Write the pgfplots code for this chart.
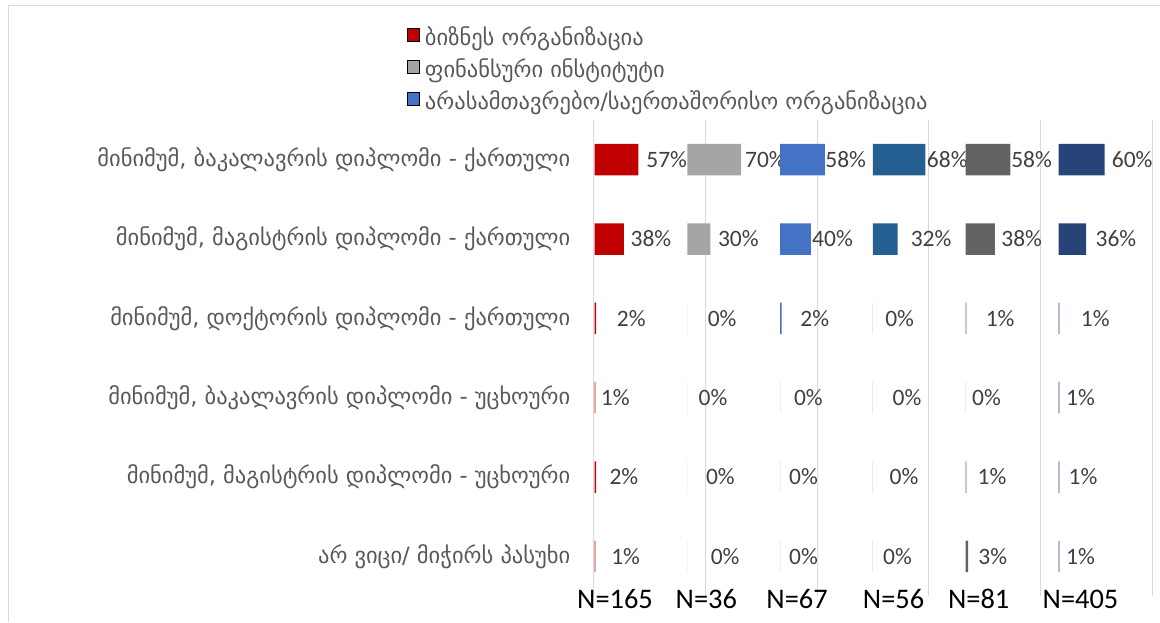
\documentclass[border=0pt]{standalone}
\usepackage{fontspec}
\setmainfont{Carlito}
\newfontfamily\geo{DejaVu Sans}
\usepackage{pgfplots}
\pgfplotsset{compat=1.18}
\usepackage{pgfplotstable}

\definecolor{cBiz}{HTML}{C00000}
\definecolor{cFin}{HTML}{A5A5A5}
\definecolor{cNgo}{HTML}{4472C4}
\definecolor{cS4}{HTML}{255E91}
\definecolor{cS5}{HTML}{636363}
\definecolor{cS6}{HTML}{264478}
\definecolor{gridc}{HTML}{D9D9D9}
\definecolor{labc}{HTML}{595959}
\definecolor{valc}{HTML}{404040}

\newcommand\catfont{\geo\fontsize{22.5}{27}\selectfont}
\newcommand\valfont{\fontsize{23.5}{28}\selectfont}
\newcommand\nfont{\fontsize{28.4}{34}\selectfont}

% share of each answer (percent) per group; dx = gap between bar end and its label (pt)
\pgfplotstableread{
row val dx
0 57 7.8
1 38 6.7
2 2 20.7
3 1 5.5
4 2 13.3
5 1 15.8
}\tblA
\pgfplotstableread{
row val dx
0 70 3.7
1 30 7.4
2 0 20.3
3 0 11.1
4 0 18.5
5 0 23.3
}\tblB
\pgfplotstableread{
row val dx
0 58 0.4
1 40 1.1
2 2 18.5
3 0 13.7
4 0 8.9
5 0 8.9
}\tblC
\pgfplotstableread{
row val dx
0 68 1.5
1 32 13
2 0 12.2
3 0 19.6
4 0 16.6
5 0 10
}\tblD
\pgfplotstableread{
row val dx
0 58 0.7
1 38 6.2
2 1 19.1
3 0 6.3
4 1 11
5 3 10.2
}\tblE
\pgfplotstableread{
row val dx
0 60 7
1 36 9.2
2 1 21.5
3 1 6.7
4 1 9.2
5 1 6.7
}\tblF

\pgfplotsset{
  panel/.style={
    anchor=south west, scale only axis,
    width=92.8pt, height=476pt,
    xmin=0, xmax=120.5, ymin=-0.5, ymax=5.5, y dir=reverse,
    hide axis, clip=false, bar width=31.5pt,
    point meta=x,
    visualization depends on={\thisrow{dx} \as \dx},
    nodes near coords={\pgfmathprintnumber{\pgfplotspointmeta}\%},
    every node near coord/.append style={anchor=west, inner sep=0pt,
      xshift=\dx pt, font=\valfont, text=valc},
    /pgf/number format/assume math mode=true,
  },
}

% one group: #1 left edge, #2 colour, #3 table, #4 sample size, #5 its x position
\newcommand\panel[5]{%
  \begin{axis}[panel, at={(#1,-596pt)}]
    \addplot[xbar, fill=#2, draw=none] table[x=val, y=row] {#3};
    \node[anchor=base, yshift=-12.5pt, font=\nfont, text=black]
      at (axis cs:#5,5.5) {#4};
  \end{axis}}

\begin{document}
\begin{tikzpicture}
\useasboundingbox (0pt,0pt) rectangle (1160pt,-622pt);
\draw[gridc, line width=1.5pt] (8.5pt,-622pt) -- (8.5pt,-5.5pt) -- (1160pt,-5.5pt);

\begin{axis}[
  anchor=south west, at={(594pt,-596pt)},
  scale only axis, width=558pt, height=476pt,
  xmin=0, xmax=558, ymin=-0.5, ymax=5.5, y dir=reverse,
  axis line style={draw=none},
  major tick length=0pt,
  xtick={0,111.6,223.2,334.8,446.4,558},
  xticklabels={},
  xmajorgrids, grid style={gridc, line width=1pt},
  ytick={0,...,5},
  yticklabels={
    {მინიმუმ, ბაკალავრის დიპლომი - ქართული},
    {მინიმუმ, მაგისტრის დიპლომი - ქართული},
    {მინიმუმ, დოქტორის დიპლომი - ქართული},
    {მინიმუმ, ბაკალავრის დიპლომი - უცხოური},
    {მინიმუმ, მაგისტრის დიპლომი - უცხოური},
    {არ ვიცი/ მიჭირს პასუხი}},
  yticklabel style={anchor=east, inner sep=0pt, xshift=-23.5pt,
    font=\catfont, text=labc},
  legend style={at={(-0.33548,1.2017)}, anchor=north west,
    draw=none, fill=none, inner sep=0pt, outer sep=0pt,
    row sep=0pt, column sep=5.3pt, font=\catfont, text=labc,
    nodes={inner sep=0pt, text height=21pt, text depth=11pt}},
  legend cell align=left,
  legend image code/.code={\fill[#1] (0pt,-0.75pt) rectangle (12.5pt,11.75pt);},
]
\addlegendimage{fill=cBiz}
\addlegendentry{ბიზნეს ორგანიზაცია}
\addlegendimage{fill=cFin}
\addlegendentry{ფინანსური ინსტიტუტი}
\addlegendimage{fill=cNgo}
\addlegendentry{არასამთავრებო/საერთაშორისო ორგანიზაცია}
\end{axis}

\panel{594.5pt}{cBiz}{\tblA}{N=165}{26.6}
\panel{687.3pt}{cFin}{\tblB}{N=36}{24.7}
\panel{780.1pt}{cNgo}{\tblC}{N=67}{22}
\panel{872.9pt}{cS4}{\tblD}{N=56}{26.8}
\panel{965.7pt}{cS5}{\tblE}{N=81}{16.9}
\panel{1058.5pt}{cS6}{\tblF}{N=405}{28.6}
\end{tikzpicture}
\end{document}
